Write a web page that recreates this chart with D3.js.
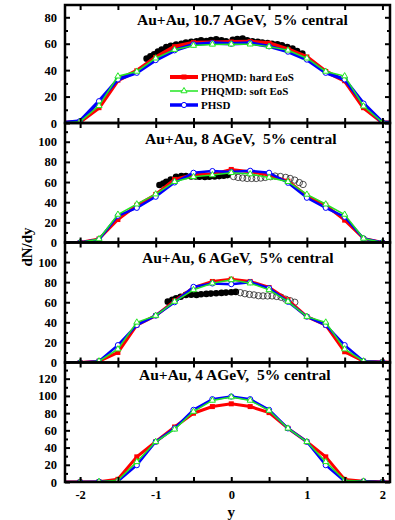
<!DOCTYPE html>
<html>
<head>
<meta charset="utf-8">
<script src="https://cdn.jsdelivr.net/npm/d3@7"></script>
<style>
body { margin: 0; background: #fff; }
text { font-family: "Liberation Serif", "Times New Roman", serif; font-weight: bold; fill: #000; }
</style>
</head>
<body>
<div id="chart"></div>
<script>
// rapidity grid of the model curves
const rapidity = [-2.25, -2, -1.75, -1.5, -1.25, -1, -0.75, -0.5, -0.25, 0, 0.25, 0.5, 0.75, 1, 1.25, 1.5, 1.75, 2, 2.25];

// 10.7 AGeV
const hard107 = [0, 1, 11.6, 32.4, 39.5, 49.6, 57.7, 60.8, 61, 61.3, 61.5, 60.3, 55.7, 50, 39, 32, 11.6, 0.5, 0];
const soft107 = [0, 1, 13, 35.4, 39, 49, 55.5, 58.6, 59.5, 59.6, 59.6, 57.8, 55, 49, 39, 35.5, 12.7, 0.5, 0];
const phsd107 = [0, 1.5, 16.5, 33, 38, 47.6, 55, 59.5, 60.5, 60, 60.5, 58, 54, 48, 38, 33, 14.7, 0.5, 0];
// 8 AGeV
const hard8 = [0, 0, 3.5, 22.8, 37, 47.7, 62.6, 67.5, 67.9, 72.5, 70.2, 66.9, 60.9, 46.4, 37, 22.2, 4, 0, 0];
const soft8 = [0, 0, 3.5, 27.8, 38, 48, 60.3, 65.2, 67, 69.2, 67.9, 64.6, 60.3, 47.7, 38, 27.8, 4, 0, 0];
const phsd8 = [0, 0, 3, 26.5, 34.4, 45.4, 59.6, 69.2, 70.9, 70, 71.2, 69.2, 59.3, 44.4, 34.4, 25.5, 4, 0, 0];
// 6 AGeV
const hard6 = [0, 0, 1.3, 10, 37.3, 46.7, 61.3, 74.7, 80.7, 83, 80.7, 74.7, 62.3, 45.7, 37.3, 10.7, 1.3, 0.5, 0];
const soft6 = [0, 0, 1.3, 13.3, 40, 46.7, 60.7, 72.3, 79, 82.3, 79, 72.3, 60.7, 45.7, 40, 13.3, 1.3, 0.5, 0];
const phsd6 = [0, 0, 1.3, 17.3, 37.3, 46.7, 60, 75.3, 78.7, 78, 80, 74, 60.5, 45.7, 37.3, 17.3, 1.3, 0.5, 0];
// 4 AGeV
const hard4 = [0, 0, 0.4, 3.1, 29.2, 46.7, 63.9, 79.9, 87.6, 90.8, 87.6, 80.6, 62.3, 46.7, 29.2, 3, 0.8, 0, 0];
const soft4 = [0, 0, 0.4, 2, 23.4, 46.7, 61.2, 81.8, 94.7, 98.6, 94.7, 83, 62.3, 46.7, 23.4, 2, 0.8, 0, 0];
const phsd4 = [0, 0, 0.4, 0.8, 19.5, 46.7, 62.3, 83.8, 96.2, 99.3, 96.2, 83.8, 62.3, 46.7, 19.5, 0.8, 0.8, 0, 0];

// measured points [y, dN/dy]
const exp107 = [[-1.12, 48.7], [-1.07, 50.5], [-1.02, 52], [-0.97, 54], [-0.92, 55.5], [-0.86, 57.5], [-0.8, 58.5],
  [-0.73, 59.3], [-0.66, 60], [-0.6, 60.8], [-0.53, 61.5], [-0.46, 61.8], [-0.4, 62.5], [-0.33, 62], [-0.27, 62.8],
  [-0.2, 63.4], [-0.13, 62.5], [-0.07, 61.8], [0.02, 63], [0.08, 63.5], [0.15, 63.9], [0.21, 62.5], [0.28, 61.8],
  [0.35, 61.5], [0.41, 60.8], [0.48, 60.5], [0.54, 60], [0.61, 59.5], [0.67, 58.8], [0.74, 57.5], [0.81, 56.3],
  [0.87, 54.5], [0.94, 52.5]];
const exp8 = [[-0.95, 57], [-0.9, 58.5], [-0.86, 60.2], [-0.8, 62.5], [-0.73, 65.2], [-0.66, 65.9], [-0.6, 66],
  [-0.53, 65.5], [-0.47, 65.5], [-0.42, 65.2], [-0.35, 65], [-0.29, 65.2], [-0.22, 65.5], [-0.16, 65.9],
  [-0.1, 66.2], [-0.05, 66.9]];
const exp8open = [[0.03, 65.5], [0.09, 64.6], [0.15, 64], [0.21, 63.6], [0.27, 63.6], [0.33, 63.6], [0.39, 64],
  [0.45, 64.6], [0.52, 65.3], [0.58, 65.9], [0.65, 65.5], [0.72, 64.6], [0.78, 63.5], [0.84, 61.9], [0.9, 59.5],
  [0.95, 57.6]];
const exp6 = [[-0.84, 60.6], [-0.78, 62.5], [-0.73, 64], [-0.67, 65.5], [-0.6, 67.3], [-0.53, 67.5], [-0.46, 67.3],
  [-0.4, 68], [-0.33, 68.3], [-0.27, 68.6], [-0.2, 69], [-0.13, 69.3], [-0.07, 69.6], [0, 70], [0.06, 70.3]];
const exp6open = [[0.12, 69.5], [0.18, 68.5], [0.24, 67.8], [0.3, 67.3], [0.36, 66.5], [0.42, 66.3], [0.48, 66.3],
  [0.54, 66.3], [0.6, 65.8], [0.66, 65], [0.72, 63], [0.78, 61.5], [0.84, 60]];

const titles = ["Au+Au, 10.7 AGeV,  5% central", "Au+Au, 8 AGeV,  5% central",
  "Au+Au, 6 AGeV,  5% central", "Au+Au, 4 AGeV,  5% central"];
const legendLabels = ["PHQMD: hard EoS", "PHQMD: soft EoS", "PHSD"];
const xTickLabels = [-2, -1, 0, 1, 2];
const yMax = [89.3, 118.6, 119.5, 138.8];

const width = 395, height = 520;
const left = 65, right = 390;
const panelTop = [5, 123, 242.5, 362.5];
const panelBottom = [123, 242.5, 362.5, 482];
const titleX = [137, 145, 142, 139];
const titleY = [25, 144, 263, 380];

const models = [
  [hard107, soft107, phsd107], [hard8, soft8, phsd8], [hard6, soft6, phsd6], [hard4, soft4, phsd4]
];
const filledData = [exp107, exp8, exp6, []];
const openData = [[], exp8open, exp6open, []];

const RED = "#ff0000", GREEN = "#22e622", BLUE = "#0000ff";

const svg = d3.select("#chart").append("svg")
  .attr("width", width).attr("height", height);

const x = d3.scaleLinear().domain([-2.2, 2.1]).range([left, right]);
const xMajor = d3.range(-2, 2.01, 0.5);

function drawModel(g, y, vals, kind, thick) {
  const pts = rapidity.map((r, i) => [r, vals[i]]);
  const line = d3.line().x(d => x(d[0])).y(d => y(d[1]));
  const inside = pts.filter(d => d[0] >= -2.2 && d[0] <= 2.1);
  if (kind == "hard") {
    g.append("path").attr("d", line(pts)).attr("fill", "none")
      .attr("stroke", RED).attr("stroke-width", thick ? 4 : 3);
    g.selectAll(null).data(inside).enter().append("rect")
      .attr("x", d => x(d[0]) - 2.5).attr("y", d => y(d[1]) - 2.5)
      .attr("width", 5).attr("height", 5).attr("fill", RED);
  } else if (kind == "phsd") {
    g.append("path").attr("d", line(pts)).attr("fill", "none")
      .attr("stroke", BLUE).attr("stroke-width", thick ? 3.5 : 2.5);
    g.selectAll(null).data(inside).enter().append("circle")
      .attr("cx", d => x(d[0])).attr("cy", d => y(d[1])).attr("r", 2.6)
      .attr("fill", "#fff").attr("stroke", BLUE).attr("stroke-width", 1);
  } else {
    g.append("path").attr("d", line(pts)).attr("fill", "none")
      .attr("stroke", GREEN).attr("stroke-width", 1.5);
    g.selectAll(null).data(inside).enter().append("path")
      .attr("d", d3.symbol(d3.symbolTriangle, 16))
      .attr("transform", d => `translate(${x(d[0])},${y(d[1])})`)
      .attr("fill", "#fff").attr("stroke", GREEN).attr("stroke-width", 1);
  }
}

titles.forEach((title, p) => {
  const top = panelTop[p], bottom = panelBottom[p];
  const y = d3.scaleLinear().domain([0, yMax[p]]).range([bottom, top]);
  const g = svg.append("g");

  const clipId = "clip" + p;
  svg.append("clipPath").attr("id", clipId).append("rect")
    .attr("x", left).attr("y", top).attr("width", right - left).attr("height", bottom - top);
  const plot = g.append("g").attr("clip-path", `url(#${clipId})`);

  // data
  plot.selectAll(null).data(filledData[p]).enter().append("circle")
    .attr("cx", d => x(d[0])).attr("cy", d => y(d[1])).attr("r", 3.3).attr("fill", "#000");
  plot.selectAll(null).data(openData[p]).enter().append("circle")
    .attr("cx", d => x(d[0])).attr("cy", d => y(d[1])).attr("r", 3.2)
    .attr("fill", "none").attr("stroke", "#222").attr("stroke-width", 0.8);

  const [hard, soft, phsd] = models[p];
  drawModel(plot, y, hard, "hard", p == 0);
  drawModel(plot, y, phsd, "phsd", p == 0);
  drawModel(plot, y, soft, "soft", p == 0);

  // axes, ticks pointing in
  const yMajorVals = d3.range(0, yMax[p], 20);
  const yMinorVals = d3.range(10, yMax[p], 20);
  const axes = [
    [d3.axisLeft(y).tickValues(yMajorVals).tickSize(-5).tickPadding(8).tickFormat(d3.format("d")), left, 0],
    [d3.axisLeft(y).tickValues(yMinorVals).tickSize(-3).tickFormat(""), left, 0],
    [d3.axisRight(y).tickValues(yMajorVals).tickSize(-5).tickFormat(""), right, 0],
    [d3.axisRight(y).tickValues(yMinorVals).tickSize(-3).tickFormat(""), right, 0],
    [d3.axisTop(x).tickValues(xMajor).tickSize(-5).tickFormat(""), 0, top],
    [d3.axisBottom(x).tickValues(xMajor).tickSize(-5).tickPadding(8)
      .tickFormat(d => (p == 3 && xTickLabels.includes(d)) ? d : ""), 0, bottom]
  ];
  axes.forEach(([ax, tx, ty]) => {
    const a = g.append("g").attr("transform", `translate(${tx},${ty})`).call(ax);
    a.select(".domain").remove();
    a.selectAll("line").attr("stroke", "#000").attr("stroke-width", 2);
    a.selectAll("text").attr("font-size", 12.5).attr("font-family", null).attr("fill", "#000");
  });

  g.append("rect").attr("x", left).attr("y", top)
    .attr("width", right - left).attr("height", bottom - top)
    .attr("fill", "none").attr("stroke", "#000").attr("stroke-width", 2.5);

  g.append("text").attr("x", titleX[p]).attr("y", titleY[p])
    .attr("font-size", 15.5).style("white-space", "pre").text(title);
});

// legend (top panel)
const legendY = [77, 91, 105];
const legendColors = [RED, GREEN, BLUE];
const legendWidths = [4, 1.5, 3.5];
const leg = svg.append("g");
legendLabels.forEach((label, i) => {
  const ly = legendY[i];
  leg.append("line").attr("x1", 170).attr("x2", 198).attr("y1", ly).attr("y2", ly)
    .attr("stroke", legendColors[i]).attr("stroke-width", legendWidths[i]);
  if (i == 0) {
    leg.append("rect").attr("x", 181.5).attr("y", ly - 2.5).attr("width", 5).attr("height", 5).attr("fill", RED);
  } else if (i == 1) {
    leg.append("path").attr("d", d3.symbol(d3.symbolTriangle, 16))
      .attr("transform", `translate(184,${ly})`)
      .attr("fill", "#fff").attr("stroke", GREEN).attr("stroke-width", 1);
  } else {
    leg.append("circle").attr("cx", 184).attr("cy", ly).attr("r", 2.6)
      .attr("fill", "#fff").attr("stroke", BLUE).attr("stroke-width", 1);
  }
  leg.append("text").attr("x", 201).attr("y", ly + 4).attr("font-size", 11).text(label);
});

// axis titles
svg.append("text").attr("transform", "translate(27,247) rotate(-90)")
  .attr("text-anchor", "middle").attr("dominant-baseline", "central")
  .attr("font-size", 15).text("dN/dy");
svg.append("text").attr("x", x(0)).attr("y", 517)
  .attr("text-anchor", "middle").attr("font-size", 15).text("y");
</script>
</body>
</html>
